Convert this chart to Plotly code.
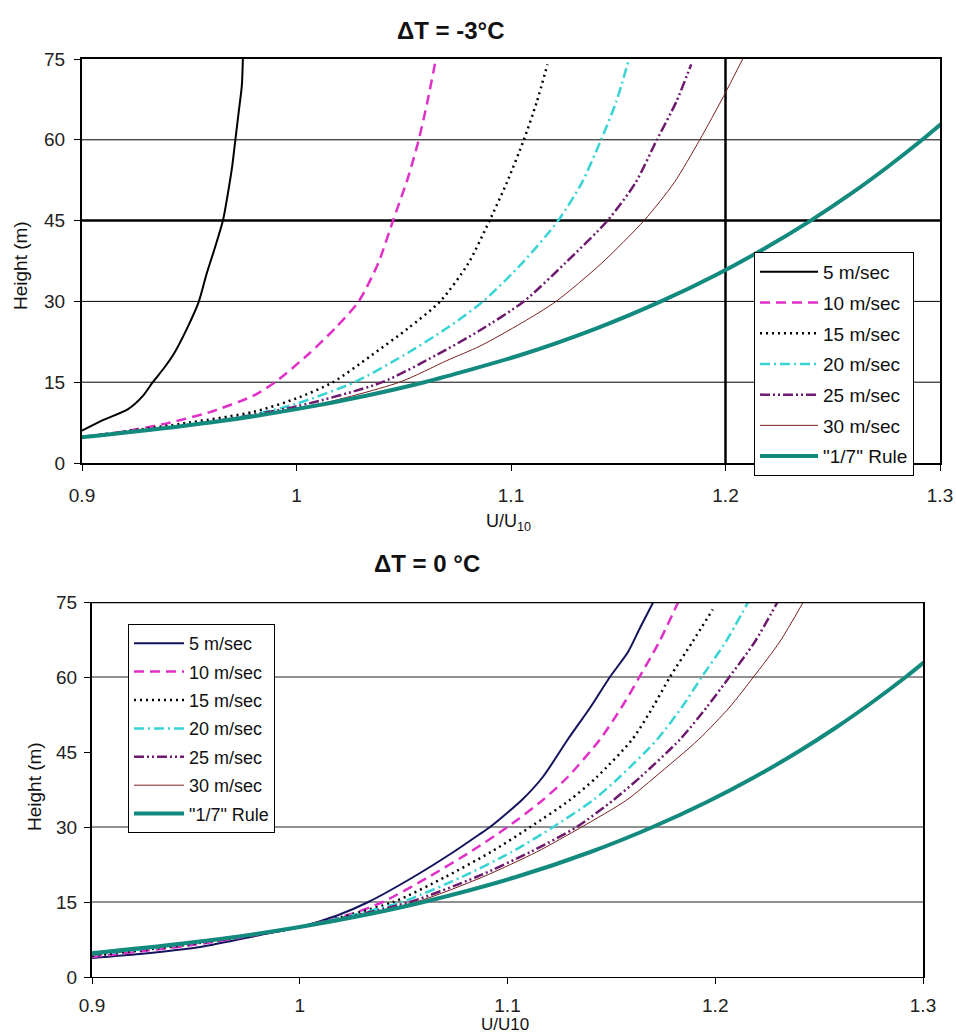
import plotly.graph_objects as go

# ---------------- DATA ----------------
series_names = ["5 m/sec", "10 m/sec", "15 m/sec", "20 m/sec", "25 m/sec", "30 m/sec", "\"1/7\" Rule"]

# Panel A: dT = -3 C  (U/U10, Height)
a5_u = [0.900, 0.910, 0.9215, 0.9285, 0.933, 0.938, 0.9424, 0.949, 0.9545, 0.958, 0.962, 0.9657, 0.968, 0.970, 0.9715, 0.973, 0.9745, 0.975]
a5_h = [6, 8, 10, 12.5, 15, 17.5, 20, 25, 30, 35, 40, 45, 50, 55, 60, 65, 70, 75]
a10_u = [0.900, 0.920, 0.940, 0.960, 0.980, 0.990, 1.005, 1.018, 1.029, 1.038, 1.045, 1.052, 1.057, 1.061, 1.065]
a10_h = [4.8, 5.9, 7.4, 9.5, 12.5, 15, 20, 25, 30, 37, 45, 53, 60, 67, 75]
a15_u = [0.900, 0.950, 0.980, 1.000, 1.017, 1.035, 1.052, 1.067, 1.080, 1.090, 1.098, 1.106, 1.112, 1.117]
a15_h = [4.8, 7.5, 9.5, 12, 15, 20, 25, 30, 37, 45, 52, 60, 67, 74]
a20_u = [0.900, 0.950, 0.980, 1.000, 1.027, 1.050, 1.070, 1.087, 1.105, 1.122, 1.133, 1.142, 1.149, 1.155]
a20_h = [4.8, 7, 9, 11, 15, 20, 25, 30, 37, 45, 52, 60, 67, 75]
a25_u = [0.900, 0.950, 1.000, 1.040, 1.065, 1.085, 1.106, 1.125, 1.145, 1.158, 1.168, 1.177, 1.184]
a25_h = [4.8, 7, 10.5, 15, 20, 24.5, 30, 37, 45, 52, 60, 67, 74]
a30_u = [0.900, 1.000, 1.048, 1.070, 1.0855, 1.105, 1.121, 1.142, 1.162, 1.176, 1.188, 1.199, 1.208]
a30_h = [4.8, 10, 15, 19, 21.7, 26, 30, 37, 45, 52, 60, 68, 75]

# "1/7" rule (same in both panels)
rule_u = [0.900, 0.9057, 0.9597, 1.000, 1.0324, 1.0596, 1.1041, 1.1399, 1.1699, 1.1960, 1.2190, 1.2397, 1.2585, 1.2757, 1.2917, 1.3066]
rule_h = [4.78, 5, 7.5, 10, 12.5, 15, 20, 25, 30, 35, 40, 45, 50, 55, 60, 65]

# Panel B: dT = 0 C
b5_u = [0.900, 0.923, 0.952, 0.981, 1.000, 1.018, 1.033, 1.0547, 1.074, 1.086, 1.0916, 1.1069, 1.117, 1.129, 1.140, 1.1493, 1.158, 1.164, 1.1702]
b5_h = [3.8, 4.6, 6, 8.4, 10, 12.3, 15, 20, 25, 28.4, 30, 35.4, 40, 47.5, 54, 60, 65, 70, 75]
b10_u = [0.900, 0.950, 1.000, 1.024, 1.040, 1.062, 1.082, 1.100, 1.117, 1.129, 1.1445, 1.155, 1.1635, 1.173, 1.1822]
b10_h = [4.0, 6.5, 10, 12.5, 15, 20, 25, 30, 35.4, 40, 47.5, 54, 60, 67, 75]
b15_u = [0.900, 0.950, 1.000, 1.045, 1.070, 1.092, 1.111, 1.130, 1.143, 1.160, 1.170, 1.1782, 1.189, 1.1988]
b15_h = [4.2, 6.7, 10, 15, 20, 25, 30, 35.4, 40, 47.5, 54, 60, 67, 73.5]
b20_u = [0.900, 0.950, 1.000, 1.049, 1.078, 1.102, 1.122, 1.1413, 1.154, 1.172, 1.184, 1.1935, 1.205, 1.2159]
b20_h = [4.4, 6.9, 10, 15, 20, 25, 30, 35.4, 40, 47.5, 54, 60, 67, 75]
b25_u = [0.900, 0.950, 1.000, 1.053, 1.085, 1.111, 1.1333, 1.151, 1.164, 1.183, 1.196, 1.2068, 1.219, 1.230]
b25_h = [4.5, 7.0, 10, 15, 20, 25, 30, 35.4, 40, 47.5, 54, 60, 67, 75]
b30_u = [0.900, 0.950, 1.000, 1.056, 1.088, 1.114, 1.1357, 1.1574, 1.171, 1.192, 1.207, 1.2184, 1.231, 1.2424]
b30_h = [4.6, 7.1, 10, 15, 20, 25, 30, 35.4, 40, 47.5, 54, 60, 67, 75]

x_ticks = [0.9, 1.0, 1.1, 1.2, 1.3]
x_tick_labels = ["0.9", "1", "1.1", "1.2", "1.3"]
y_ticks = [0, 15, 30, 45, 60, 75]
y_tick_labels = ["0", "15", "30", "45", "60", "75"]

# ---------------- STYLE ----------------
W, H = 956, 1033
FONT = "Liberation Sans, Arial, sans-serif"

def px(x):
    return x / W

def py(y):
    return 1 - y / H

styles_a = [
    dict(color="#000000", width=2, dash="solid"),
    dict(color="#e030c8", width=2.5, dash="10px,6px"),
    dict(color="#000000", width=2.5, dash="2px,4px"),
    dict(color="#38d4d4", width=2.5, dash="10px,4px,2px,4px"),
    dict(color="#6e1a6e", width=2.5, dash="10px,3px,2px,3px,2px,3px"),
    dict(color="#7a1f1f", width=1, dash="solid"),
    dict(color="#138a7e", width=4, dash="solid"),
]
styles_b = [dict(s) for s in styles_a]
styles_b[0] = dict(color="#14145e", width=2, dash="solid")

fig = go.Figure()

data_a = [(a5_u, a5_h), (a10_u, a10_h), (a15_u, a15_h), (a20_u, a20_h), (a25_u, a25_h), (a30_u, a30_h), (rule_u, rule_h)]
data_b = [(b5_u, b5_h), (b10_u, b10_h), (b15_u, b15_h), (b20_u, b20_h), (b25_u, b25_h), (b30_u, b30_h), (rule_u, rule_h)]

for i, (name, (u, h)) in enumerate(zip(series_names, data_a)):
    fig.add_trace(go.Scatter(x=u, y=h, mode="lines", name=name, line=dict(shape="spline", smoothing=0.7, **styles_a[i]),
                             xaxis="x", yaxis="y", legend="legend", legendgroup="a%d" % i))
for i, (name, (u, h)) in enumerate(zip(series_names, data_b)):
    fig.add_trace(go.Scatter(x=u, y=h, mode="lines", name=name, line=dict(shape="spline", smoothing=0.7, **styles_b[i]),
                             xaxis="x2", yaxis="y2", legend="legend2", legendgroup="b%d" % i))

# plot areas (pixels)
A = dict(l=82, r=940, t=59, b=463)
B = dict(l=92, r=923, t=602, b=977)

axis_common = dict(showgrid=False, zeroline=False, ticks="outside", ticklen=6, tickcolor="#000",
                   tickfont=dict(family=FONT, size=19, color="#222"), linecolor="#000")

fig.update_layout(
    width=W, height=H, margin=dict(l=0, r=0, t=0, b=0, autoexpand=False),
    paper_bgcolor="white", plot_bgcolor="white", font=dict(family=FONT),
    xaxis=dict(domain=[px(A["l"]), px(A["r"])], range=[0.9, 1.3], tickvals=x_ticks, ticktext=x_tick_labels,
               anchor="y", showline=True, linewidth=2, mirror=True, ticklabelstandoff=8, **axis_common),
    yaxis=dict(domain=[py(A["b"]), py(A["t"])], range=[0, 75], tickvals=y_ticks, ticktext=y_tick_labels,
               anchor="x", showline=True, linewidth=2, mirror=True, ticklabelstandoff=5, **axis_common),
    xaxis2=dict(domain=[px(B["l"]), px(B["r"])], range=[0.9, 1.3], tickvals=x_ticks, ticktext=x_tick_labels,
                anchor="y2", showline=True, linewidth=1, mirror=False, ticklabelstandoff=5, **axis_common),
    yaxis2=dict(domain=[py(B["b"]), py(B["t"])], range=[0, 75], tickvals=y_ticks, ticktext=y_tick_labels,
                anchor="x2", showline=True, linewidth=2, mirror=True, ticklabelstandoff=3, **axis_common),
    legend=dict(x=px(754), y=py(252), xanchor="left", yanchor="top", bgcolor="white", bordercolor="#000",
                borderwidth=1, font=dict(family=FONT, size=19, color="#111"), traceorder="grouped",
                tracegroupgap=3, itemwidth=58),
    legend2=dict(x=px(128), y=py(624), xanchor="left", yanchor="top", bgcolor="white", bordercolor="#000",
                 borderwidth=1, font=dict(family=FONT, size=18, color="#111"), traceorder="grouped",
                 tracegroupgap=2, itemwidth=50),
)

shapes = []
for yv, w in [(15, 1), (30, 1), (45, 2.5), (60, 1)]:
    shapes.append(dict(type="line", xref="x", yref="y", x0=0.9, x1=1.3, y0=yv, y1=yv, line=dict(color="#000", width=w), layer="below"))
shapes.append(dict(type="line", xref="x", yref="y", x0=1.2, x1=1.2, y0=0, y1=75, line=dict(color="#000", width=2.5), layer="below"))
for yv in [15, 30, 60]:
    shapes.append(dict(type="line", xref="x2", yref="y2", x0=0.9, x1=1.3, y0=yv, y1=yv, line=dict(color="#222", width=1), layer="below"))
shapes.append(dict(type="line", xref="x2", yref="y2", x0=0.9, x1=1.3, y0=75, y1=75, line=dict(color="#000", width=2.5)))
fig.update_layout(shapes=shapes)

ann = [
    dict(text="<b>ΔT = -3°C</b>", x=px(451), y=py(30), size=24),
    dict(text="<b>ΔT = 0 °C</b>", x=px(427), y=py(563), size=24),
    dict(text="U/U<sub>10</sub>", x=px(508), y=py(522), size=18),
    dict(text="U/U10", x=px(505), y=py(1024), size=17),
    dict(text="Height (m)", x=px(20), y=py(266), size=19, angle=-90),
    dict(text="Height (m)", x=px(34), y=py(787), size=19, angle=-90),
]
for a in ann:
    fig.add_annotation(text=a["text"], x=a["x"], y=a["y"], xref="paper", yref="paper", showarrow=False,
                       xanchor="center", yanchor="middle", textangle=a.get("angle", 0),
                       font=dict(family=FONT, size=a["size"], color="#111"))

fig.write_html("out.html", config={"displayModeBar": False},
               post_script="document.body.style.margin='0';document.body.style.overflow='hidden';")
